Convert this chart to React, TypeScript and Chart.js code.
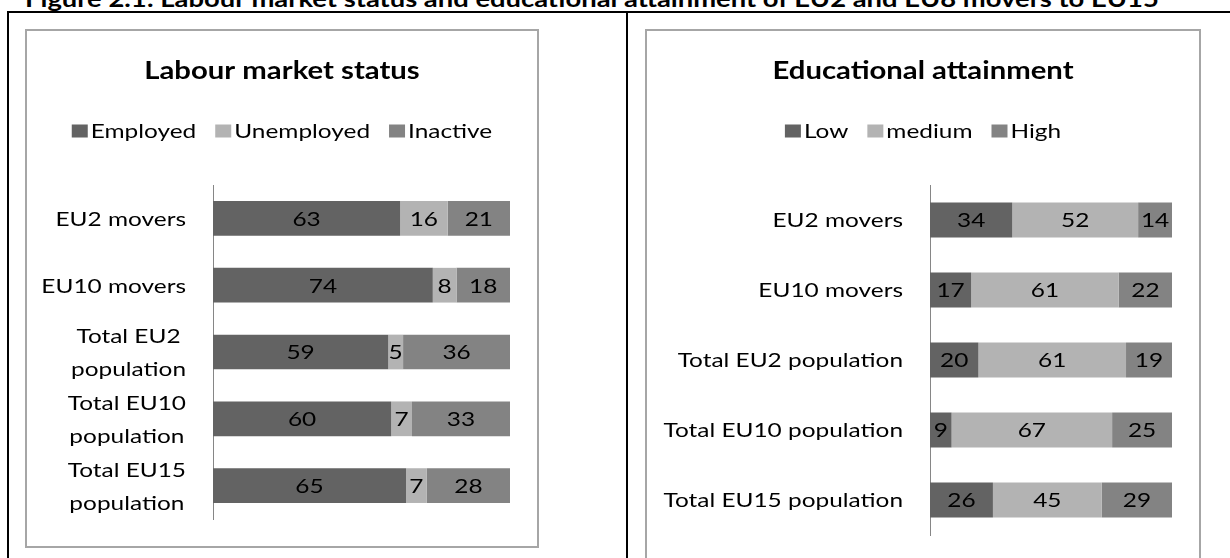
import React, { useEffect, useRef } from "react";
import { Chart, registerables } from "chart.js";

Chart.register(...registerables);

const FONT = "Lato, 'Noto Sans', sans-serif";
const SX = 1.22; // horizontal text stretch of the reference

const figureTitle =
  "Figure 2.1: Labour market status and educational attainment of EU2 and EU8 movers to EU15";

// Labour market status
const labourTitle = "Labour market status";
const labourCategories = [
  ["EU2 movers"],
  ["EU10 movers"],
  ["Total EU2", "population"],
  ["Total EU10", "population"],
  ["Total EU15", "population"],
];
const labourSeriesNames = ["Employed", "Unemployed", "Inactive"];
const employed = [63, 74, 59, 60, 65];
const unemployed = [16, 8, 5, 7, 7];
const inactive = [21, 18, 36, 33, 28];

// Educational attainment
const eduTitle = "Educational attainment";
const eduCategories = [
  ["EU2 movers"],
  ["EU10 movers"],
  ["Total EU2 population"],
  ["Total EU10 population"],
  ["Total EU15 population"],
];
const eduSeriesNames = ["Low", "medium", "High"];
const low = [34, 17, 20, 9, 26];
const medium = [52, 61, 61, 67, 45];
const high = [14, 22, 19, 25, 29];

const seriesColors = ["#636363", "#b3b3b3", "#838383"];

function textW(ctx: CanvasRenderingContext2D, t: string) {
  return ctx.measureText(t).width * SX;
}

function drawText(
  ctx: CanvasRenderingContext2D,
  t: string,
  x: number,
  y: number,
  align: CanvasTextAlign
) {
  ctx.save();
  ctx.translate(x, y);
  ctx.scale(SX, 1);
  ctx.textAlign = align;
  ctx.textBaseline = "middle";
  ctx.fillText(t, 0, 0);
  ctx.restore();
}

const panelPlugin = {
  id: "panelText",
  afterDraw(chart: any, _args: any, opts: any) {
    const ctx: CanvasRenderingContext2D = chart.ctx;
    const area = chart.chartArea;
    ctx.save();

    // data labels
    ctx.font = `20px ${FONT}`;
    ctx.fillStyle = "#000";
    chart.data.datasets.forEach((_ds: any, di: number) => {
      const meta = chart.getDatasetMeta(di);
      meta.data.forEach((el: any, i: number) => {
        const p = el.getProps(["x", "base", "y"], true);
        drawText(ctx, String(opts.raw[di][i]), (p.x + p.base) / 2, p.y + 1, "center");
      });
    });

    // category labels
    const yScale = chart.scales.y;
    ctx.font = `20px ${FONT}`;
    opts.categories.forEach((lines: string[], i: number) => {
      const yc = yScale.getPixelForValue(i);
      let w = 0;
      lines.forEach((l) => (w = Math.max(w, textW(ctx, l))));
      const cx = area.left - opts.labelGap - w / 2;
      const n = lines.length;
      lines.forEach((l, j) => {
        drawText(ctx, l, cx, yc + (j - (n - 1) / 2) * opts.lineHeight + 1, "center");
      });
    });

    // title
    ctx.font = `bold 24px ${FONT}`;
    drawText(ctx, opts.title, chart.width / 2, opts.titleY, "center");

    // legend
    ctx.font = `20px ${FONT}`;
    const boxW = 16;
    const boxH = 13;
    const boxGap = 3;
    const itemGap = 19;
    const items = chart.data.datasets.map((ds: any) => ({
      text: ds.label,
      color: ds.backgroundColor,
      w: textW(ctx, ds.label),
    }));
    let total = 0;
    items.forEach((it: any, k: number) => {
      total += boxW + boxGap + it.w + (k > 0 ? itemGap : 0);
    });
    let x = chart.width / 2 - total / 2;
    const ly = opts.legendY;
    items.forEach((it: any) => {
      ctx.fillStyle = it.color;
      ctx.fillRect(x, ly - boxH / 2, boxW, boxH);
      x += boxW + boxGap;
      ctx.fillStyle = "#000";
      drawText(ctx, it.text, x, ly + 1, "left");
      x += it.w + itemGap;
    });

    ctx.restore();
  },
};

type PanelProps = {
  title: string;
  categories: string[][];
  names: string[];
  series: number[][];
  width: number;
  height: number;
  chartLeft: number;
  padRight: number;
  padBottom: number;
  labelGap: number;
  lineHeight: number;
  catFrac: number;
};

function Panel(props: PanelProps) {
  const ref = useRef<HTMLCanvasElement | null>(null);
  useEffect(() => {
    if (!ref.current) return;
    const n = props.categories.length;
    const sums = Array.from({ length: n }, (_, i) =>
      props.series.reduce((s, arr) => s + arr[i], 0)
    );
    const chart = new Chart(ref.current, {
      type: "bar",
      data: {
        labels: props.categories.map((c) => c.join(" ")),
        datasets: props.names.map((name, k) => ({
          label: name,
          data: props.series[k].map((v, i) => (v / sums[i]) * 100),
          backgroundColor: seriesColors[k],
          borderWidth: 0,
          barPercentage: 1,
          categoryPercentage: props.catFrac,
        })),
      },
      options: {
        indexAxis: "y",
        responsive: false,
        animation: false,
        devicePixelRatio: 1,
        layout: {
          padding: { left: 0, right: props.padRight, top: 154, bottom: props.padBottom },
        },
        plugins: {
          legend: { display: false },
          title: { display: false },
          tooltip: { enabled: false },
          panelText: {
            title: props.title,
            categories: props.categories,
            raw: props.series,
            labelGap: props.labelGap,
            lineHeight: props.lineHeight,
            titleY: 40,
            legendY: 100,
          },
        } as any,
        scales: {
          x: { stacked: true, min: 0, max: 100, display: false },
          y: {
            stacked: true,
            display: true,
            grid: { display: false, drawTicks: false },
            ticks: { display: false },
            border: { display: true, color: "#868686", width: 1 },
            afterFit: (s: any) => {
              s.width = props.chartLeft;
            },
          },
        },
      } as any,
      plugins: [panelPlugin as any],
    });
    return () => chart.destroy();
  }, []);
  return <canvas ref={ref} width={props.width} height={props.height} style={{ display: "block" }} />;
}

export default function App() {
  return (
    <div
      style={{
        position: "fixed",
        left: 0,
        top: 0,
        width: 1230,
        height: 558,
        overflow: "hidden",
        background: "#fff",
      }}
    >
      <div
        style={{
          position: "absolute",
          left: 25,
          top: -13,
          fontFamily: FONT,
          fontWeight: 700,
          fontSize: 23,
          lineHeight: "23px",
          whiteSpace: "nowrap",
          color: "#000",
          transform: "scaleX(1.19)",
          transformOrigin: "0 0",
        }}
      >
        {figureTitle}
      </div>
      <div style={{ position: "absolute", left: 7, top: 11, width: 1240, height: 2, background: "#000" }} />
      <div style={{ position: "absolute", left: 7, top: 11, width: 2, height: 560, background: "#000" }} />
      <div style={{ position: "absolute", left: 626, top: 11, width: 2, height: 560, background: "#000" }} />

      <div
        style={{
          position: "absolute",
          left: 25,
          top: 29,
          width: 514,
          height: 519,
          boxSizing: "border-box",
          border: "2px solid #a6a6a6",
        }}
      >
        <Panel
          title={labourTitle}
          categories={labourCategories}
          names={labourSeriesNames}
          series={[employed, unemployed, inactive]}
          width={510}
          height={515}
          chartLeft={186}
          padRight={27}
          padBottom={27}
          labelGap={27}
          lineHeight={33}
          catFrac={0.52}
        />
      </div>

      <div
        style={{
          position: "absolute",
          left: 645,
          top: 29,
          width: 556,
          height: 541,
          boxSizing: "border-box",
          border: "2px solid #a6a6a6",
        }}
      >
        <Panel
          title={eduTitle}
          categories={eduCategories}
          names={eduSeriesNames}
          series={[low, medium, high]}
          width={552}
          height={537}
          chartLeft={283}
          padRight={27}
          padBottom={33}
          labelGap={27}
          lineHeight={33}
          catFrac={0.5}
        />
      </div>
    </div>
  );
}
